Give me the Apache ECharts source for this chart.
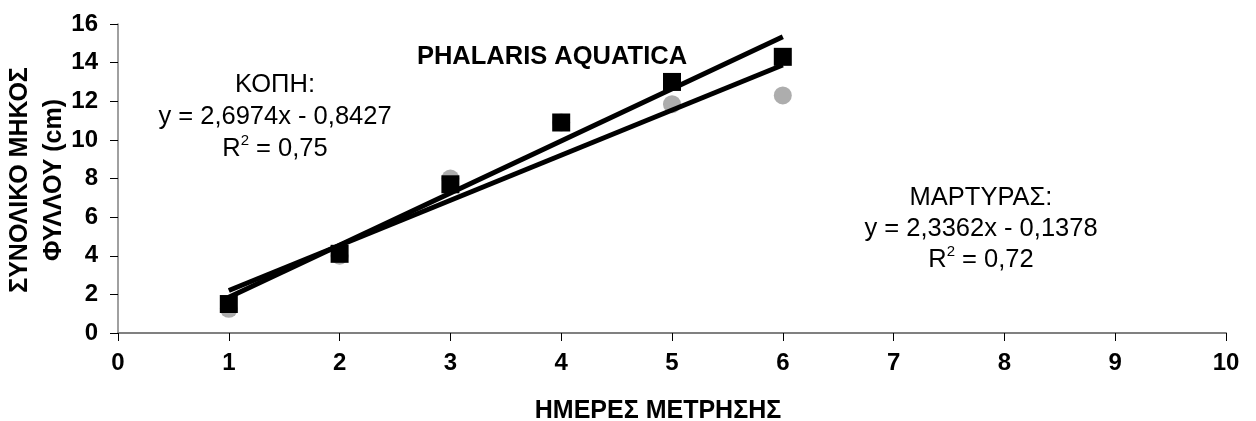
<!DOCTYPE html>
<html>
<head>
<meta charset="utf-8">
<script src="https://cdn.jsdelivr.net/npm/echarts@6/dist/echarts.min.js"></script>
<style>
  html, body { margin: 0; padding: 0; background: #fff; }
  #chart { width: 1256px; height: 421px; }
</style>
</head>
<body>
<div id="chart"></div>
<script>
// μέρες μέτρησης
var days = [1, 2, 3, 4, 5, 6];
// ΚΟΠΗ (τετράγωνα)
var kopi = [1.5, 4.1, 7.7, 10.9, 13.0, 14.3];
// ΜΑΡΤΥΡΑΣ (γκρι κύκλοι)
var martyras = [1.25, 4.0, 8.0, 10.9, 11.85, 12.3];
// γραμμές τάσης: [κλίση, σταθερά]
var kopiTrend = [2.6974, -0.8427];
var martyrasTrend = [2.3362, -0.1378];
var trendRange = [1, 6];
var xTicks = [0, 1, 2, 3, 4, 5, 6, 7, 8, 9, 10];
var yTicks = [0, 2, 4, 6, 8, 10, 12, 14, 16];

function pairs(xs, ys) {
  return xs.map(function (x, i) { return [x, ys[i]]; });
}
function trendLine(c) {
  return trendRange.map(function (x) { return [x, c[0] * x + c[1]]; });
}

var chart = echarts.init(document.getElementById("chart"));
var font = "Liberation Sans, Arial, sans-serif";
var option = {
  animation: false,
  grid: { left: 118, right: 30, top: 24, bottom: 88 },
  xAxis: {
    type: "value",
    min: xTicks[0],
    max: xTicks[xTicks.length - 1],
    interval: 1,
    splitLine: { show: false },
    axisLine: { onZero: false, lineStyle: { color: "#808080", width: 2 } },
    axisTick: { length: 8, lineStyle: { color: "#000", width: 1 } },
    axisLabel: { margin: 18, fontSize: 24, fontWeight: "bold", color: "#000", fontFamily: font }
  },
  yAxis: {
    type: "value",
    min: yTicks[0],
    max: yTicks[yTicks.length - 1],
    interval: 2,
    splitLine: { show: false },
    axisLine: { show: true, lineStyle: { color: "#808080", width: 1.5 } },
    axisTick: { show: true, length: 8, lineStyle: { color: "#000", width: 1 } },
    axisLabel: { margin: 20, fontSize: 24, fontWeight: "bold", color: "#000", fontFamily: font }
  },
  graphic: [
    {
      type: "text", x: 37, y: 180, rotation: Math.PI / 2,
      style: {
        text: "ΣΥΝΟΛΙΚΟ ΜΗΚΟΣ\nΦΥΛΛΟΥ (cm)", align: "center", verticalAlign: "middle",
        font: "bold 25px " + font, lineHeight: 34, fill: "#000"
      }
    },
    {
      type: "text", x: 658, y: 411,
      style: { text: "ΗΜΕΡΕΣ ΜΕΤΡΗΣΗΣ", align: "center", verticalAlign: "middle", font: "bold 25px " + font, fill: "#000" }
    },
    {
      type: "text", x: 552, y: 57,
      style: { text: "PHALARIS AQUATICA", align: "center", verticalAlign: "middle", font: "bold 25.5px " + font, fill: "#000" }
    },
    {
      type: "text", x: 275, y: 117,
      style: {
        text: "ΚΟΠΗ:\ny = 2,6974x - 0,8427\nR{s|2} = 0,75", align: "center", verticalAlign: "middle",
        font: "25.5px " + font, lineHeight: 32, fill: "#000",
        rich: { s: { fontSize: 15, verticalAlign: "top", lineHeight: 32, padding: [0, 0, 12, 0] } }
      }
    },
    {
      type: "text", x: 981, y: 229,
      style: {
        text: "ΜΑΡΤΥΡΑΣ:\ny = 2,3362x - 0,1378\nR{s|2} = 0,72", align: "center", verticalAlign: "middle",
        font: "25.5px " + font, lineHeight: 31, fill: "#000",
        rich: { s: { fontSize: 15, verticalAlign: "top", lineHeight: 31, padding: [0, 0, 12, 0] } }
      }
    }
  ],
  series: [
    {
      name: "ΜΑΡΤΥΡΑΣ", type: "scatter", data: pairs(days, martyras),
      symbol: "circle", symbolSize: 18, itemStyle: { color: "#999999" }, z: 2
    },
    {
      name: "ΚΟΠΗ", type: "scatter", data: pairs(days, kopi),
      symbol: "rect", symbolSize: 18, itemStyle: { color: "#000", opacity: 1 }, z: 3
    },
    {
      type: "line", data: trendLine(kopiTrend), symbol: "none",
      lineStyle: { color: "#000", width: 5 }, z: 4
    },
    {
      type: "line", data: trendLine(martyrasTrend), symbol: "none",
      lineStyle: { color: "#000", width: 5 }, z: 4
    }
  ]
};
chart.setOption(option);
</script>
</body>
</html>
